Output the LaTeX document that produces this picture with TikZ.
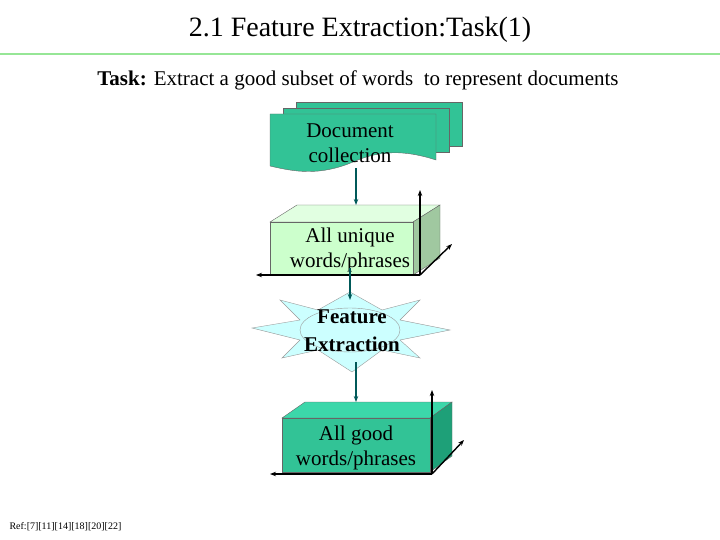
\documentclass[tikz,border=0pt]{standalone}
\usepackage{fontspec}
\usetikzlibrary{arrows.meta}
\setmainfont{Liberation Serif}
\begin{document}
\begin{tikzpicture}[x=1pt,y=-1pt,
  conn/.style={line width=1.6pt,-{Stealth[length=6pt]}, color=teal!70!black},
  ax/.style={line width=1.4pt,-{Stealth[length=6pt]}},
  edge/.style={draw=black!60,line width=0.4pt},
  lbl/.style={font=\fontsize{21}{25}\selectfont,align=center,inner sep=0pt}]
\useasboundingbox (0,0) rectangle (720,540);
\definecolor{teal1}{RGB}{50,195,150}
\definecolor{teal2}{RGB}{60,215,170}
\definecolor{teal3}{RGB}{30,160,120}
\definecolor{lg1}{RGB}{204,255,204}
\definecolor{lg2}{RGB}{225,255,225}
\definecolor{lg3}{RGB}{160,200,160}
\definecolor{cy}{RGB}{204,255,255}
\definecolor{rule}{RGB}{150,230,150}
% title
\node[font=\fontsize{28}{32}\selectfont] (title) at (360,30) {2.1 Feature Extraction:Task(1)};
\draw[rule,line width=2.5pt] (0,54) -- (720,54);
\node[font=\fontsize{21}{25}\selectfont] (task) at (358,80) {\textbf{Task:} Extract a good subset of words\ \ to represent documents};
% document stack
\foreach \dx/\dy in {26/-12,13/-6}{
 \draw[edge,fill=teal1] (270+\dx,114+\dy) -- (436+\dx,114+\dy) -- (436+\dx,158+\dy) -- (270+\dx,158+\dy) -- cycle;}
\draw[edge,fill=teal1] (270,114) -- (436,114) -- (436,160) .. controls (405,150) and (380,150) .. (353,162) .. controls (320,176) and (295,172) .. (270,166) -- cycle;
\node[lbl] (doc) at (350,143) {Document\\collection};
% box1
\draw[edge,fill=lg2] (270,222) -- (297,205) -- (440,205) -- (413,222) -- cycle;
\draw[edge,fill=lg3] (413,222) -- (440,205) -- (440,258) -- (413,275) -- cycle;
\draw[edge,fill=lg1] (270,222) rectangle (413,275);
\node[lbl] (b1) at (350,250) {All unique\\words/phrases};
\coordinate (o1) at (420,275);
\draw[ax] (o1) -- (420,190);
\draw[ax] (o1) -- (256,275);
\draw[ax] (o1) -- (452,244);
% star
\draw[edge,fill=cy,draw=black!40] (252,328) -- (300,320) -- (280,300) -- (318,310) -- (350,292) -- (382,310) -- (420,300) -- (400,320) -- (450,330) -- (400,340) -- (420,358) -- (382,350) -- (352,372) -- (318,350) -- (282,358) -- (300,340) -- cycle;
\draw[edge,fill=cy,draw=black!40] (350,330) ellipse [x radius=50,y radius=22];
\node[lbl,font=\bfseries\fontsize{21}{28}\selectfont] (fe) at (352,331) {Feature\\Extraction};
% box2
\draw[edge,fill=teal2] (282,418) -- (305,402) -- (452,402) -- (430,418) -- cycle;
\draw[edge,fill=teal3] (430,418) -- (452,402) -- (452,456) -- (430,472) -- cycle;
\draw[edge,fill=teal1] (282,418) rectangle (430,472);
\node[lbl] (b2) at (356,448) {All good\\words/phrases};
\coordinate (o2) at (432,474);
\draw[ax] (o2) -- (432,390);
\draw[ax] (o2) -- (270,474);
\draw[ax] (o2) -- (464,440);
% connectors
\draw[conn] (356,168) -- (356,205);
\draw[conn] (350,268) -- (350,300);
\draw[conn] (356,362) -- (356,402);
\node[font=\fontsize{10}{12}\selectfont,anchor=west] (ref) at (6,527) {Ref:[7][11][14][18][20][22]};
\end{tikzpicture}
\end{document}
